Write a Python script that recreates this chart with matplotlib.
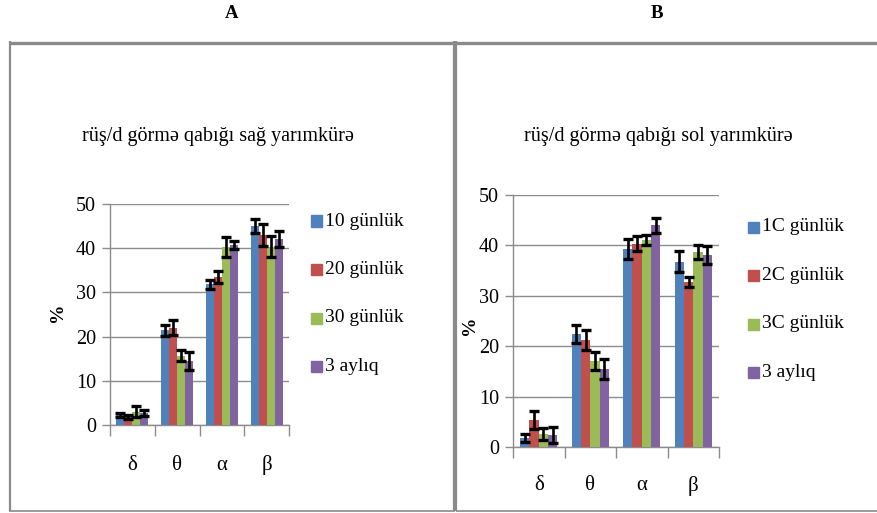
import matplotlib
matplotlib.use("Agg")
import matplotlib.pyplot as plt
import numpy as np
from matplotlib.lines import Line2D
from matplotlib.patches import Rectangle

W, H = 877, 513

categories = ["δ", "θ", "α", "β"]
colors = ["#4F81BD", "#C0504D", "#9BBB59", "#8064A2"]

labels_a = ["10 günlük", "20 günlük", "30 günlük", "3 aylıq"]
labels_b = ["1C günlük", "2C günlük", "3C günlük", "3 aylıq"]

# right hemisphere (panel A): rows = series, columns = delta, theta, alpha, beta
right_10d = [2.2, 21.4, 31.8, 45.0]
right_20d = [1.8, 22.0, 33.5, 43.0]
right_30d = [3.0, 15.7, 40.3, 40.3]
right_3m = [2.7, 14.5, 40.8, 42.0]
right_10d_err = [0.5, 1.3, 1.1, 1.6]
right_20d_err = [0.4, 1.7, 1.3, 2.5]
right_30d_err = [1.2, 1.2, 2.2, 2.4]
right_3m_err = [0.6, 2.0, 0.9, 1.8]

# left hemisphere (panel B)
left_10d = [1.8, 22.5, 39.3, 36.8]
left_20d = [5.3, 21.2, 40.3, 32.8]
left_30d = [2.6, 17.1, 41.1, 38.7]
left_3m = [2.3, 15.4, 44.0, 38.1]
left_10d_err = [0.8, 1.8, 2.0, 2.1]
left_20d_err = [1.8, 2.0, 1.5, 1.0]
left_30d_err = [1.2, 1.8, 1.0, 1.3]
left_3m_err = [1.6, 2.0, 1.5, 1.8]

title_a = "rüş/d görmə qabığı sağ yarımkürə"
title_b = "rüş/d görmə qabığı sol yarımkürə"

SERIF = ["Liberation Serif", "DejaVu Serif"]
GRID = "#8c8c8c"

fig = plt.figure(figsize=(W / 100, H / 100), dpi=100)
fig.patch.set_facecolor("white")


def fx(px):
    return px / W


def fy(py):
    return 1 - py / H


def draw_panel(rect, series, errors, labels, title, title_xy, ylab_xy, legend_xy, cat_y):
    ax = fig.add_axes(rect)
    n = len(series)
    x = np.arange(len(categories))
    bw = 0.18
    for i, (vals, errs) in enumerate(zip(series, errors)):
        off = (i - (n - 1) / 2) * bw
        ax.bar(x + off, vals, width=bw, color=colors[i], zorder=3, linewidth=0)
        ax.errorbar(x + off, vals, yerr=errs, fmt="none", ecolor="black",
                    elinewidth=1.9, capsize=3.6, capthick=2.4, zorder=4)
    ax.set_xlim(-0.5, len(categories) - 0.5)
    ax.set_ylim(0, 50)
    ax.set_yticks(range(0, 51, 10))
    ax.yaxis.grid(True, color=GRID, linewidth=1.0, zorder=0)
    ax.set_axisbelow(True)
    for s in ("top", "right"):
        ax.spines[s].set_visible(False)
    for s in ("left", "bottom"):
        ax.spines[s].set_color(GRID)
        ax.spines[s].set_linewidth(1.0)
    ax.tick_params(axis="y", direction="out", length=6, color=GRID, width=1.0,
                   labelsize=14.5, pad=4)
    ax.set_xticks(np.arange(len(categories) + 1) - 0.5)
    ax.tick_params(axis="x", direction="out", length=8, color=GRID, width=1.0,
                   labelbottom=False)
    for lab in ax.get_yticklabels():
        lab.set_fontfamily(SERIF)
    left_px = rect[0] * W
    width_px = rect[2] * W
    for i, c in enumerate(categories):
        fig.text(fx(left_px + (i + 0.5) * width_px / len(categories)), fy(cat_y), c,
                 ha="center", va="center", fontsize=15, family=SERIF)
    fig.text(fx(title_xy[0]), fy(title_xy[1]), title, ha="center", va="center",
             fontsize=14.5, family=SERIF)
    fig.text(fx(ylab_xy[0]), fy(ylab_xy[1]), "%", ha="center", va="center",
             fontsize=14, family=SERIF, rotation=90, fontweight="bold")
    lx, ly0, dy = legend_xy
    for i, lab in enumerate(labels):
        cy = ly0 + i * dy
        fig.add_artist(Rectangle((fx(lx), fy(cy + 5.5)), 11 / W, 11 / H,
                                 transform=fig.transFigure, color=colors[i]))
        fig.text(fx(lx + 14), fy(cy), lab, ha="left", va="center",
                 fontsize=14, family=SERIF)
    return ax


# panel A axes: x 110..289 px, y 204..425 px
rect_a = [fx(110), fy(425), (289 - 110) / W, (425 - 204) / H]
# panel B axes: x 513..719 px, y 195..447 px
rect_b = [fx(513), fy(447), (719 - 513) / W, (447 - 195) / H]

draw_panel(rect_a,
           [right_10d, right_20d, right_30d, right_3m],
           [right_10d_err, right_20d_err, right_30d_err, right_3m_err],
           labels_a, title_a, (218, 137), (58, 312), (311, 221, 48.5), 465)
draw_panel(rect_b,
           [left_10d, left_20d, left_30d, left_3m],
           [left_10d_err, left_20d_err, left_30d_err, left_3m_err],
           labels_b, title_b, (658, 137), (470, 325), (748, 227, 48.5), 486)

# panel letters
fig.text(fx(232), fy(14), "A", ha="center", va="center", fontsize=13.5,
         fontweight="bold", family=SERIF)
fig.text(fx(657), fy(14), "B", ha="center", va="center", fontsize=13.5,
         fontweight="bold", family=SERIF)

# surrounding frames
FRAME = "#8a8a8a"


def hline(x0, x1, y, lw):
    fig.add_artist(Line2D([fx(x0), fx(x1)], [fy(y), fy(y)], transform=fig.transFigure,
                          color=FRAME, linewidth=lw, solid_capstyle="butt"))


def vline(x, y0, y1, lw):
    fig.add_artist(Line2D([fx(x), fx(x)], [fy(y0), fy(y1)], transform=fig.transFigure,
                          color=FRAME, linewidth=lw, solid_capstyle="butt"))


hline(9, 455, 42.5, 2.4)
hline(455.5, 877, 42.5, 2.4)
vline(10, 41, 511, 1.6)
vline(454, 41, 511, 1.6)
vline(456.5, 41, 511, 1.6)
hline(9, 455, 510.5, 1.2)
hline(455.5, 877, 510.5, 1.2)

fig.savefig("out.png", dpi=100, facecolor="white")
